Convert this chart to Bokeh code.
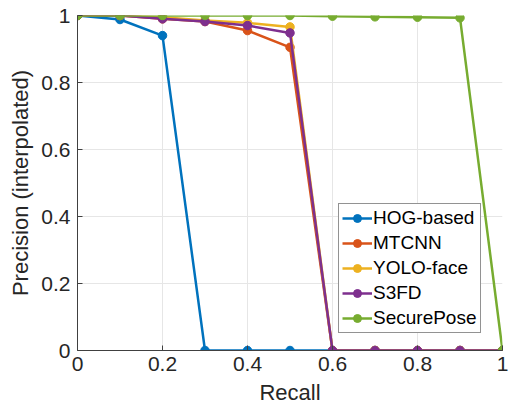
from bokeh.plotting import figure
from bokeh.embed import file_html
from bokeh.resources import INLINE
from bokeh.models import Legend, LegendItem, FixedTicker, Range1d

recall = [0.0, 0.1, 0.2, 0.3, 0.4, 0.5, 0.6, 0.7, 0.8, 0.9, 1.0]
hog = [1.0, 0.988, 0.94, 0.0, 0.0, 0.0, 0.0, 0.0, 0.0, 0.0, 0.0]
mtcnn = [1.0, 1.0, 0.99, 0.982, 0.955, 0.905, 0.0, 0.0, 0.0, 0.0, 0.0]
yolo = [1.0, 1.0, 0.995, 0.985, 0.978, 0.966, 0.0, 0.0, 0.0, 0.0, 0.0]
s3fd = [1.0, 1.0, 0.99, 0.982, 0.97, 0.948, 0.0, 0.0, 0.0, 0.0, 0.0]
securepose = [1.0, 1.0, 1.0, 1.0, 1.0, 1.0, 0.998, 0.996, 0.995, 0.993, 0.0]

names = ["HOG-based", "MTCNN", "YOLO-face", "S3FD", "SecurePose"]
series = [hog, mtcnn, yolo, s3fd, securepose]
colors = ["#0072BD", "#D95319", "#EDB120", "#7E2F8E", "#77AC30"]

FONT = "Liberation Sans"

p = figure(width=510, height=412, output_backend="svg", toolbar_location=None,
           x_range=Range1d(0, 1), y_range=Range1d(0, 1),
           min_border_left=77, min_border_right=8, min_border_top=15, min_border_bottom=62)
p.outline_line_color = None
p.background_fill_color = "white"

items = []
for name, ys, c in zip(names, series, colors):
    r1 = p.line(recall, ys, line_color=c, line_width=2.5)
    r2 = p.scatter(recall, ys, size=8.5, fill_color=c, line_color=c)
    items.append(LegendItem(label=name, renderers=[r1, r2]))

ticks = [0, 0.2, 0.4, 0.6, 0.8, 1]
for ax in (p.xaxis[0], p.yaxis[0]):
    ax.ticker = FixedTicker(ticks=ticks)
    ax.major_label_overrides = {0: "0", 0.2: "0.2", 0.4: "0.4", 0.6: "0.6", 0.8: "0.8", 1: "1"}
    ax.major_label_text_font = FONT
    ax.major_label_text_font_size = "21px"
    ax.major_label_text_color = "#262626"
    ax.axis_label_text_font = FONT
    ax.axis_label_text_font_size = "22px"
    ax.axis_label_text_font_style = "normal"
    ax.axis_label_text_color = "#262626"
    ax.axis_line_color = "#404040"
    ax.major_tick_line_color = "#404040"
    ax.major_tick_in = 5
    ax.major_tick_out = 0
    ax.minor_tick_line_color = None
p.xaxis.axis_label = "Recall"
p.yaxis.axis_label = "Precision (interpolated)"
p.xaxis.major_label_standoff = 6
p.yaxis.major_label_standoff = 7
p.xaxis.axis_label_standoff = 6
p.yaxis.axis_label_standoff = 5

for g in (p.xgrid[0], p.ygrid[0]):
    g.ticker = FixedTicker(ticks=ticks)
    g.grid_line_color = "#e6e6e6"
    g.grid_line_width = 1

legend = Legend(items=items, location=(261, 17))
legend.label_text_font = FONT
legend.label_text_font_size = "19px"
legend.label_text_color = "#000000"
legend.border_line_color = "#262626"
legend.border_line_width = 1
legend.glyph_width = 30
legend.glyph_height = 20
legend.label_height = 21
legend.spacing = 3
legend.padding = 3
legend.margin = 0
legend.label_standoff = 1
legend.background_fill_alpha = 1
p.add_layout(legend)

open("out.html", "w").write(file_html(p, INLINE))
